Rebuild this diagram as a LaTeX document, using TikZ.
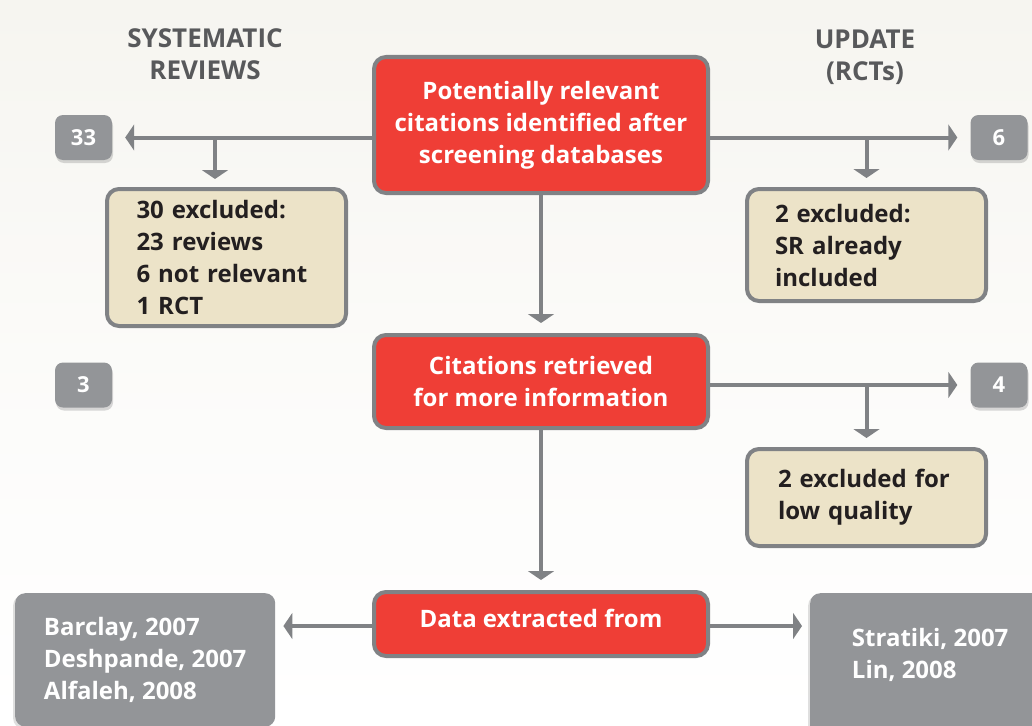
\documentclass[tikz,border=0pt]{standalone}
\usepackage{fontspec}
\setmainfont{Open Sans}
\usetikzlibrary{arrows.meta, positioning, calc, shadows}
\definecolor{boxred}{RGB}{239,62,54}
\definecolor{linegray}{RGB}{128,130,133}
\definecolor{numgray}{RGB}{147,149,152}
\definecolor{paper}{RGB}{236,227,200}
\definecolor{headgray}{RGB}{88,89,91}
\definecolor{inkdark}{RGB}{35,31,32}
\definecolor{cream}{RGB}{246,245,240}
\tikzset{
  redbox/.style={rectangle, rounded corners=12pt, draw=linegray, line width=4pt,
    fill=boxred, text=white, align=center, minimum width=334pt,
    font=\bfseries\fontsize{24}{32}\selectfont},
  beigebox/.style={rectangle, rounded corners=12pt, draw=linegray, line width=4pt,
    fill=paper, text=inkdark, align=left,
    font=\bfseries\fontsize{24}{32}\selectfont},
  numbox/.style={rectangle, rounded corners=8pt, fill=numgray, text=white,
    minimum width=57pt, minimum height=45pt,
    font=\bfseries\fontsize{22}{24}\selectfont,
    drop shadow={shadow xshift=1pt, shadow yshift=-3pt, opacity=0.3}},
  refbox/.style={rectangle, rounded corners=10pt, fill=numgray, text=white,
    align=left, anchor=north west, font=\bfseries\fontsize{24}{32}\selectfont,
    drop shadow={shadow xshift=-2pt, shadow yshift=-2pt, opacity=0.25}},
  headtext/.style={text=headgray, align=center,
    font=\bfseries\fontsize{26}{32}\selectfont},
  arrow/.style={-{Triangle[length=9pt, width=26pt]}, line width=4pt, draw=linegray}
}
\begin{document}
\begin{tikzpicture}[x=1pt, y=-1pt]
  \useasboundingbox (0,0) rectangle (1032,725);
  \clip (0,0) rectangle (1032,725);
  \shade[top color=cream, bottom color=white, middle color=cream!40] (0,0) rectangle (1032,725);

  % column headings
  \node[headtext] (hsr) at (205,54) {SYSTEMATIC\\REVIEWS};
  \node[headtext] (hup) at (865,57) {UPDATE\\(RCTs)};

  % main column
  \node[redbox, minimum height=136pt] (scr) at (541,125)
    {Potentially relevant\\citations identified after\\screening databases};
  \node[redbox, minimum height=93pt] (ret) at (541,381.5)
    {Citations retrieved\\for more information};
  \node[redbox, minimum height=64pt, text depth=11pt] (dat) at (541,624)
    {Data extracted from};

  % counts
  \node[numbox] (n33) at (83.5,137.5) {33};
  \node[numbox] (n6) at (999,137.5) {6};
  \node[numbox] (n3) at (83.5,385) {3};
  \node[numbox] (n4) at (999,385) {4};

  % exclusions
  \node[beigebox, text width=180pt, inner xsep=29.5pt, minimum height=137pt] (exa)
    at (226.5,257.5) {30 excluded:\\23 reviews\\6 not relevant\\1 RCT};
  \node[beigebox, text width=183pt, inner xsep=28pt, minimum height=112pt] (exb)
    at (866.5,245) {2 excluded:\\SR already\\included};
  \node[beigebox, text width=177pt, inner xsep=31pt, minimum height=97pt] (exc)
    at (866.5,497.5) {2 excluded for\\low quality};

  % included studies
  \node[refbox, minimum width=260pt, inner ysep=24pt] (lsr) at (15,593)
    {Barclay, 2007\\Deshpande, 2007\\Alfaleh, 2008};
  \node[refbox, minimum width=240pt, inner ysep=35pt] (lup) at (810,593)
    {Stratiki, 2007\\Lin, 2008\\\mbox{}};

  \coordinate (bra) at (215,137);
  \draw[arrow, shorten >=13pt] (scr.west |- n33.east) -- (n33.east);
  \draw[arrow, shorten >=8pt] (bra) -- (bra |- exa.north);
  \draw[arrow, shorten >=13pt] (scr.east |- n6.west) -- (n6.west);
  \draw[arrow, shorten >=9pt] (exb.north |- n6.west) -- (exb.north);
  \draw[arrow, shorten >=10pt] (scr.south) -- (ret.north);
  \draw[arrow, shorten >=13pt] (ret.east |- n4.west) -- (n4.west);
  \draw[arrow, shorten >=9pt] (exc.north |- n4.west) -- (exc.north);
  \draw[arrow, shorten >=10pt] (ret.south) -- (dat.north);
  \draw[arrow, shorten >=8pt] (dat.west |- 0,626) -- (lsr.east |- 0,626);
  \draw[arrow, shorten >=8pt] (dat.east |- 0,626) -- (lup.west |- 0,626);
\end{tikzpicture}
\end{document}
